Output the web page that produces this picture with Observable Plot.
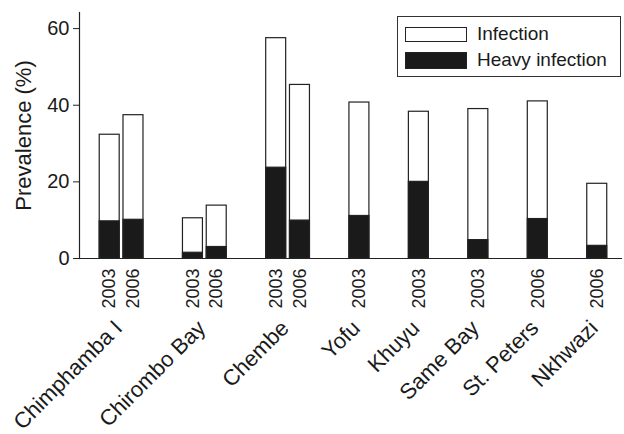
<!DOCTYPE html>
<html><head><meta charset="utf-8">
<script src="https://cdn.jsdelivr.net/npm/d3@7"></script>
<script src="https://cdn.jsdelivr.net/npm/@observablehq/plot@0.6"></script>
<style>
body{margin:0;background:#fff;font-family:"Liberation Sans",Arial,Helvetica,sans-serif;}
#wrap{position:relative;width:624px;height:434px;overflow:hidden;}
.legend{position:absolute;left:397px;top:16px;width:224px;height:61px;border:1px solid #333;box-sizing:border-box;background:#fff;}
.sw{position:absolute;left:7px;width:62px;box-sizing:border-box;border:1px solid #222;}
.lt{position:absolute;left:79px;font-size:19px;line-height:19px;color:#1a1a1a;white-space:nowrap;}
</style></head>
<body><div id="wrap"></div>
<script>
// ---- data ----
const barSite = ["Chimphamba I","Chimphamba I","Chirombo Bay","Chirombo Bay","Chembe","Chembe","Yofu","Khuyu","Same Bay","St. Peters","Nkhwazi"];
const barYear = ["2003","2006","2003","2006","2003","2006","2003","2003","2003","2006","2006"];
const infection = [32.3,37.4,10.5,13.8,57.5,45.3,40.7,38.3,39.0,41.0,19.5];
const heavy = [9.7,10.1,1.5,3.0,23.7,9.9,11.1,20.0,4.8,10.3,3.3];
const yTicks = [0,20,40,60];
const seriesNames = ["Infection","Heavy infection"];

// ---- layout (slot positions: +1 within a site, +2.5 between sites) ----
let pos = 0;
const bars = barSite.map((s,i) => {
  if (i > 0) pos += (s === barSite[i-1]) ? 1 : 2.5;
  return {site:s, year:barYear[i], infection:infection[i], heavy:heavy[i], pos};
});
const groups = d3.groups(bars, d => d.site).map(([site, arr]) => ({site, center: d3.mean(arr, d => d.pos)}));
const half = 0.42;
const font = '"Liberation Sans",Arial,Helvetica,sans-serif';

const chart = Plot.plot({
  width:624, height:434,
  marginLeft:79, marginRight:3, marginTop:12, marginBottom:176,
  x:{domain:[-1.27,21.52], axis:null},
  y:{domain:[0,64.2], axis:null},
  style:{fontFamily:font, background:"#fff", color:"#1a1a1a", overflow:"visible"},
  marks:[
    Plot.rect(bars,{x1:d=>d.pos-half, x2:d=>d.pos+half, y1:()=>0, y2:"infection", fill:"#fff", stroke:"#222", strokeWidth:1.2}),
    Plot.rect(bars,{x1:d=>d.pos-half, x2:d=>d.pos+half, y1:()=>0, y2:"heavy", fill:"#1a1a1a", stroke:"#222", strokeWidth:1.2}),
    Plot.axisY({ticks:yTicks, tickSize:6, tickPadding:4, fontSize:20, label:null, stroke:"#222"}),
    Plot.frame({anchor:"left", stroke:"#222", strokeWidth:1.2}),
    Plot.frame({anchor:"bottom", stroke:"#222", strokeWidth:1.2}),
    Plot.text(bars,{x:"pos", frameAnchor:"bottom", text:"year", dy:10, rotate:-90, textAnchor:"end", lineAnchor:"middle", fontSize:18, fill:"#1a1a1a"}),
    Plot.text(groups,{x:"center", frameAnchor:"bottom", text:"site", dy:66, dx:-3, rotate:-45, textAnchor:"end", lineAnchor:"middle", fontSize:22, fill:"#1a1a1a"}),
    Plot.text(["Prevalence (%)"],{frameAnchor:"left", dx:-56, rotate:-90, textAnchor:"middle", lineAnchor:"middle", fontSize:22, fill:"#1a1a1a"})
  ]
});
const wrap = document.getElementById("wrap");
wrap.appendChild(chart);

// legend
const lg = document.createElement("div");
lg.className = "legend";
lg.innerHTML = `
  <div class="sw" style="top:10px;height:15px;background:#fff"></div>
  <div class="lt" style="top:7px">${seriesNames[0]}</div>
  <div class="sw" style="top:35px;height:17px;background:#1a1a1a"></div>
  <div class="lt" style="top:33px">${seriesNames[1]}</div>`;
wrap.appendChild(lg);
</script>
</body></html>
